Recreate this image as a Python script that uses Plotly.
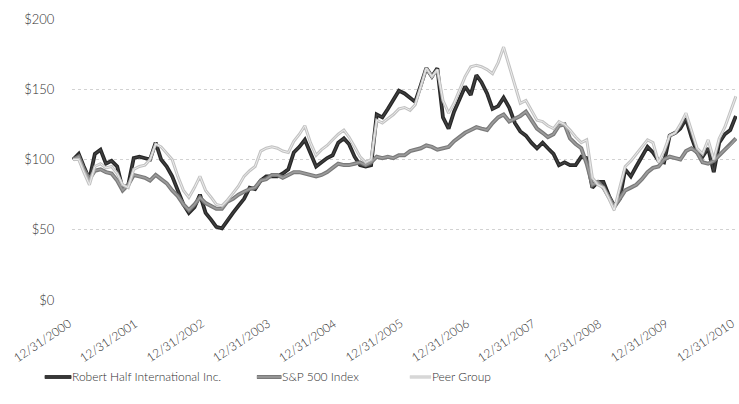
import pandas as pd
import plotly.graph_objects as go

# Month-end dates, 12/31/2000 through 12/31/2010
dates = pd.date_range("2000-12-31", periods=121, freq="ME")

# Value of $100 invested on 12/31/2000
robert_half = [
    100, 104, 95, 86, 104, 107, 97, 99, 95, 79, 82, 101,
    102, 101, 100, 112, 100, 95, 88, 78, 68, 62, 66, 75,
    62, 57, 52, 51, 57, 62, 67, 72, 80, 79, 85, 88,
    88, 88, 90, 93, 105, 109, 114, 105, 95, 98, 101, 103,
    112, 115, 111, 102, 96, 95, 96, 132, 130, 136, 143, 149,
    147, 144, 141, 153, 165, 159, 165, 130, 122, 134, 143, 152,
    146, 160, 155, 147, 136, 138, 144, 137, 126, 120, 117, 112,
    108, 112, 108, 104, 96, 98, 96, 96, 102, 101, 80, 84,
    84, 74, 67, 72, 93, 88, 95, 102, 109, 105, 99, 98,
    117, 119, 122, 129, 116, 105, 102, 108, 91, 112, 118, 121,
    131,
]
sp500 = [
    100, 102, 93, 86, 92, 93, 91, 90, 85, 78, 82, 89,
    88, 87, 85, 89, 86, 83, 78, 74, 68, 64, 68, 73,
    69, 67, 65, 65, 70, 72, 75, 77, 79, 80, 85, 86,
    89, 89, 87, 89, 91, 91, 90, 89, 88, 89, 91, 94,
    97, 96, 96, 97, 98, 96, 98, 102, 101, 102, 101, 103,
    103, 106, 107, 108, 110, 109, 107, 108, 109, 113, 116, 119,
    121, 123, 122, 121, 126, 130, 132, 127, 129, 131, 134, 128,
    122, 119, 116, 118, 124, 125, 115, 111, 108, 97, 82, 84,
    80, 73, 66, 72, 78, 80, 82, 86, 91, 94, 95, 100,
    102, 101, 100, 106, 108, 105, 98, 97, 99, 103, 107, 110,
    115,
]
peer_group = [
    100, 100, 91, 82, 95, 97, 94, 95, 90, 82, 80, 93,
    95, 96, 100, 111, 109, 104, 100, 88, 78, 73, 80, 88,
    78, 73, 68, 67, 71, 76, 81, 88, 92, 95, 106, 108,
    109, 108, 106, 105, 113, 118, 124, 112, 103, 107, 110, 114,
    118, 121, 116, 109, 102, 98, 100, 128, 126, 129, 132, 136,
    137, 135, 139, 152, 165, 159, 164, 142, 133, 140, 150, 159,
    166, 167, 166, 164, 161, 169, 180, 167, 154, 140, 142, 135,
    128, 127, 124, 122, 127, 125, 121, 116, 112, 114, 87, 82,
    80, 72, 64, 80, 95, 99, 104, 109, 114, 112, 98, 106,
    117, 119, 125, 133, 120, 108, 104, 114, 100, 115, 123, 134,
    145,
]

series_names = ["Robert Half International Inc.", "S&P 500 Index", "Peer Group"]

tick_dates = pd.to_datetime([f"{y}-12-31" for y in range(2000, 2011)])
tick_labels = [f"12/31/{y}" for y in range(2000, 2011)]
y_ticks = [0, 50, 100, 150, 200]
y_labels = ["$0", "$50", "$100", "$150", "$200"]

# (outer color, outer width, inner color, inner width) for a doubled stroke
styles = [
    ("#262626", 3.8, "#404040", 1.4),
    ("#7a7a7a", 4.0, "#9c9c9c", 1.6),
    ("#c2c2c2", 3.0, "#ececec", 1.0),
]

label_font = dict(family="Lato, 'Open Sans', sans-serif", size=12.5,
                  color="#2f2f2f", weight=300)

fig = go.Figure()
for name, values, (oc, ow, ic, iw) in zip(series_names,
                                          [robert_half, sp500, peer_group],
                                          styles):
    fig.add_trace(go.Scatter(x=dates, y=values, mode="lines", name=name,
                             line=dict(color=oc, width=ow), showlegend=False,
                             hoverinfo="skip"))
    fig.add_trace(go.Scatter(x=dates, y=values, mode="lines", name=name,
                             line=dict(color=ic, width=iw), showlegend=False))

# Slanted date labels under the plot, right end at each year-end date
for d, txt in zip(tick_dates, tick_labels):
    fig.add_annotation(x=d, y=0, xref="x", yref="paper", text=txt,
                       showarrow=False, textangle=-34,
                       xanchor="right", yanchor="top",
                       xshift=2, yshift=-14, borderpad=0,
                       font=dict(label_font, size=12))

# Legend drawn as sample strokes plus labels beneath the axis
# (paper coordinates are relative to the plot area)
legend_x = [(-0.041, -0.001), (0.278, 0.315), (0.508, 0.540)]
legend_y = -0.274
for name, (x0, x1), (oc, ow, ic, iw) in zip(series_names, legend_x, styles):
    fig.add_shape(type="line", xref="paper", yref="paper",
                  x0=x0, x1=x1, y0=legend_y, y1=legend_y,
                  line=dict(color=oc, width=ow))
    fig.add_shape(type="line", xref="paper", yref="paper",
                  x0=x0, x1=x1, y0=legend_y, y1=legend_y,
                  line=dict(color=ic, width=iw))
    fig.add_annotation(x=x1, y=legend_y, xref="paper", yref="paper",
                       text=name, showarrow=False, xanchor="left",
                       yanchor="middle", xshift=-1,
                       font=dict(label_font, size=12))

fig.update_layout(
    width=739, height=404,
    margin=dict(l=72, r=2, t=19, b=104),
    paper_bgcolor="white", plot_bgcolor="white",
    font=dict(family="Lato, 'Open Sans', sans-serif", size=13, color="#333333"),
    showlegend=False,
)
fig.update_xaxes(
    range=["2000-12-25", "2011-01-06"],
    showticklabels=False, showgrid=False, zeroline=False, showline=False,
    ticks="",
)
fig.update_yaxes(
    range=[0, 200], tickvals=y_ticks, ticktext=y_labels,
    showgrid=True, gridcolor="#d2d2d2", griddash="dot", gridwidth=1,
    zeroline=False, showline=False,
    ticks="outside", ticklen=14, tickcolor="rgba(0,0,0,0)",
    tickfont=dict(label_font, size=13),
)

fig.write_html("out.html")
